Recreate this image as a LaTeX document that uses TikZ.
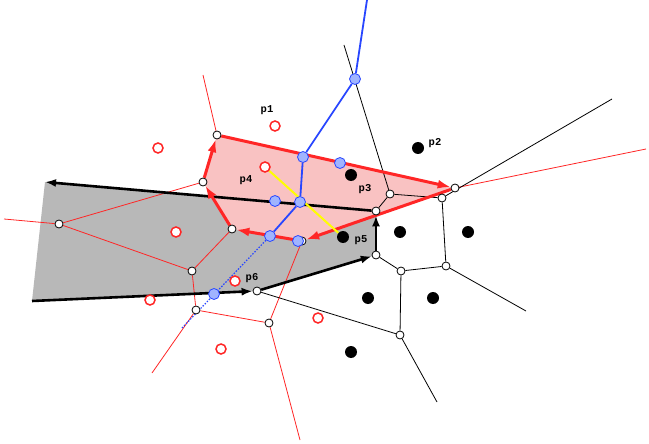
\documentclass[tikz,border=0pt]{standalone}
\usepackage{fontspec}
\newfontfamily\lblfont{Liberation Mono}
\usetikzlibrary{arrows.meta}
\definecolor{pinkfill}{RGB}{249,194,194}
\definecolor{grayfill}{RGB}{184,184,184}
\definecolor{vred}{RGB}{255,38,38}
\definecolor{vblue}{RGB}{40,70,255}
\definecolor{lblue}{RGB}{160,180,255}
\definecolor{yel}{RGB}{255,255,0}
\pgfdeclarelayer{bg}
\pgfsetlayers{bg,main}
\begin{document}
\begin{tikzpicture}[x=1pt,y=-1pt,
  vtx/.style={circle,draw=black,fill=white,line width=0.8pt,inner sep=0pt,minimum size=8pt},
  bpt/.style={circle,draw=vblue,fill=lblue,line width=0.8pt,inner sep=0pt,minimum size=11pt},
  rsite/.style={circle,draw=vred,fill=white,line width=1.5pt,inner sep=0pt,minimum size=10pt},
  bsite/.style={circle,fill=black,inner sep=0pt,minimum size=12pt},
  lbl/.style={font=\lblfont\bfseries\fontsize{10.5}{12}\selectfont,inner sep=0pt},
  redthin/.style={draw=vred,line width=0.8pt},
  blkthin/.style={draw=black,line width=0.8pt},
  redthick/.style={draw=vred,line width=3pt,-{Latex[length=13pt,width=9pt]}},
  blkthick/.style={draw=black,line width=2.6pt,-{Latex[length=11pt,width=8pt]}},
  blueline/.style={draw=vblue,line width=1.8pt},
  bluedot/.style={draw=vblue,line width=1.2pt,dash pattern=on 1.5pt off 1.5pt},
  yelline/.style={draw=yel,line width=2pt}
]
\useasboundingbox (0,0) rectangle (649,444);
% free ends
\coordinate (gTL) at (45,182);
\coordinate (gBL) at (32,301);
\coordinate (rA) at (203,75);
\coordinate (rQ) at (4,219);
\coordinate (rO) at (152,373);
\coordinate (rP) at (300,440);
\coordinate (rH) at (646,149);
\coordinate (kF) at (344,45);
\coordinate (kG) at (612,99);
\coordinate (kK) at (526,311);
\coordinate (kL) at (437,402);
\coordinate (bTop) at (367,0);
\coordinate (bEnd) at (182,328);
% vertices
\node[vtx] (A) at (217,135) {};
\node[vtx] (B) at (203,182) {};
\node[vtx] (C) at (232,229) {};
\node[vtx] (D) at (302,241) {};
\node[vtx] (E) at (376,211) {};
\node[vtx] (F) at (390,194) {};
\node[vtx] (G) at (442,198) {};
\node[vtx] (H) at (455,188) {};
\node[vtx] (I) at (376,255) {};
\node[vtx] (J) at (401,271) {};
\node[vtx] (K) at (446,266) {};
\node[vtx] (L) at (400,335) {};
\node[vtx] (M) at (257,291) {};
\node[vtx] (N) at (192,271) {};
\node[vtx] (O) at (196,310) {};
\node[vtx] (P) at (269,323) {};
\node[vtx] (Q) at (59,224) {};
% blue points
\node[bpt] (b1) at (355,79) {};
\node[bpt] (b2) at (303,157) {};
\node[bpt] (b3) at (340,163) {};
\node[bpt] (b4) at (300,202) {};
\node[bpt] (b5) at (275,201) {};
\node[bpt] (b6) at (270,236) {};
\node[bpt] (b7) at (298,241) {};
\node[bpt] (b8) at (214,294) {};
% red sites
\node[rsite] (p1) at (275,126) {};
\node[rsite] (r2) at (158,148) {};
\node[rsite] (p4) at (265,167) {};
\node[rsite] (r4) at (176,232) {};
\node[rsite] (p6) at (235,281) {};
\node[rsite] (r6) at (150,300) {};
\node[rsite] (r7) at (318,318) {};
\node[rsite] (r8) at (221,349) {};
% black sites
\node[bsite] (p2) at (418,148) {};
\node[bsite] (p3) at (351,175) {};
\node[bsite] (p5) at (343,237) {};
\node[bsite] (s4) at (400,232) {};
\node[bsite] (s5) at (468,232) {};
\node[bsite] (s6) at (368,298) {};
\node[bsite] (s7) at (433,298) {};
\node[bsite] (s8) at (351,352) {};
% labels
\node[lbl] (l1) at (267,110) {p1};
\node[lbl] (l2) at (435,143) {p2};
\node[lbl] (l3) at (365,189) {p3};
\node[lbl] (l4) at (246,180) {p4};
\node[lbl] (l5) at (361,240) {p5};
\node[lbl] (l6) at (252,278) {p6};
\begin{pgfonlayer}{bg}
  \fill[grayfill] (gTL) -- (E.center) -- (I.center) -- (M.center) -- (gBL) -- cycle;
  \fill[pinkfill] (A.center) -- (H.center) -- (D.center) -- (C.center) -- (B.center) -- cycle;
  % red Voronoi
  \path[redthin] (A) -- (rA);
  \path[redthin] (rQ) -- (Q) -- (B);
  \path[redthin] (Q) -- (N) -- (C);
  \path[redthin] (N) -- (O) -- (P) -- (D);
  \path[redthin] (O) -- (rO);
  \path[redthin] (P) -- (rP);
  \path[redthin] (H) -- (rH);
  % black Voronoi
  \path[blkthin] (kF) -- (F) -- (G) -- (kG);
  \path[blkthin] (F) -- (E);
  \path[blkthin] (G) -- (K) -- (kK);
  \path[blkthin] (I) -- (J) -- (K);
  \path[blkthin] (J) -- (L) -- (kL);
  \path[blkthin] (L) -- (M);
  % gray region boundary
  \path[blkthick] (gBL) -- (M);
  \path[blkthick] (M) -- (I);
  \path[blkthick] (I) -- (E);
  \path[blkthick] (E) -- (gTL);
  % pink region boundary
  \path[redthick] (A) -- (H);
  \path[redthick] (H) -- (D);
  \path[redthick] (D) -- (C);
  \path[redthick] (C) -- (B);
  \path[redthick] (B) -- (A);
  % blue
  \path[blueline] (bTop) -- (b1) -- (b2) -- (b4) -- (b6);
  \path[bluedot] (b6) -- (bEnd);
  % yellow
  \path[yelline] (p4) -- (p5);
\end{pgfonlayer}
\end{tikzpicture}
\end{document}
